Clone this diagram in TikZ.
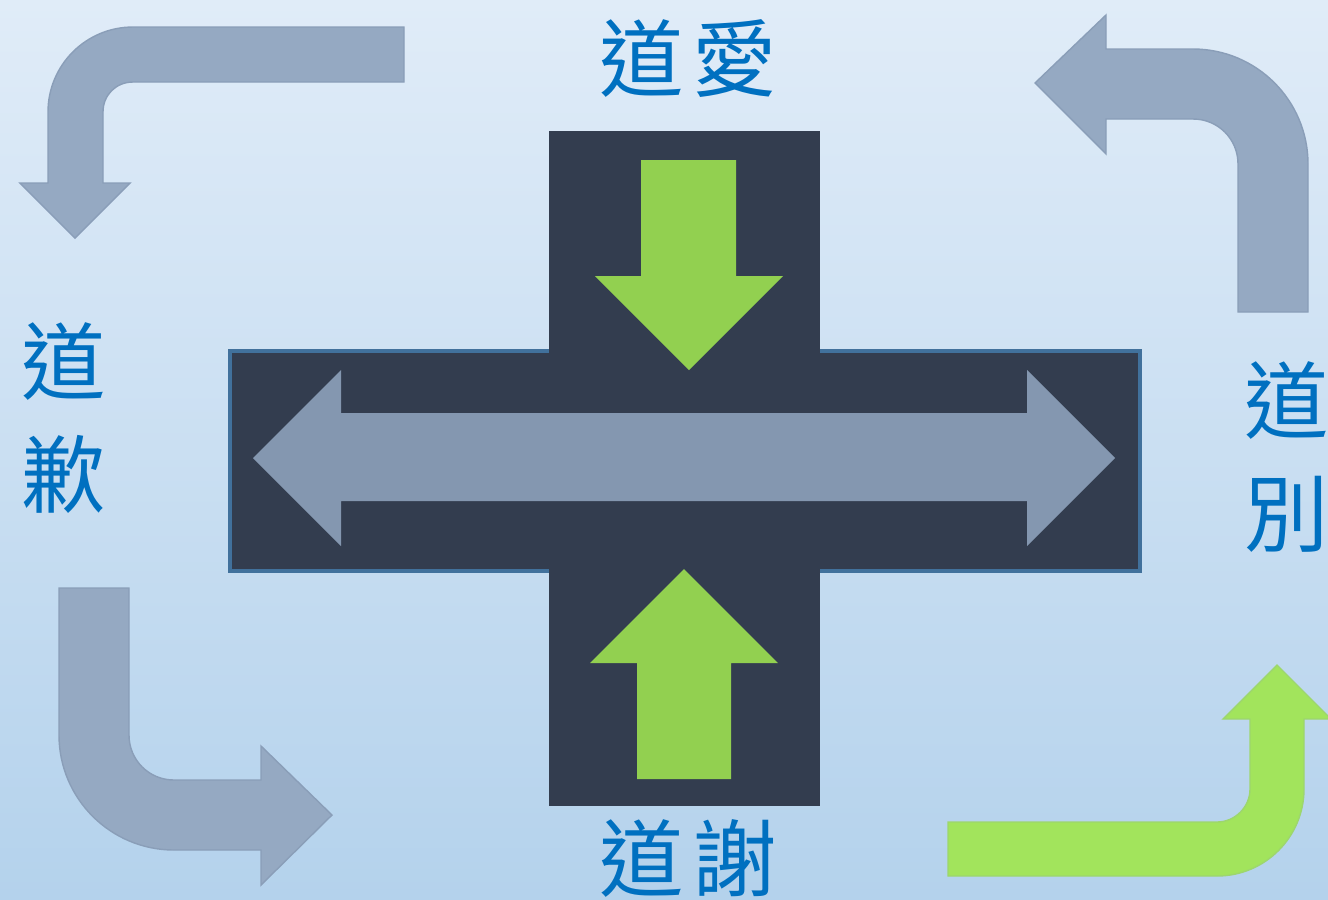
\documentclass[tikz,border=0pt]{standalone}
\usepackage{fontspec}
\newfontfamily\cjkfont{Noto Sans CJK TC}
\definecolor{bgtop}{RGB}{224,236,248}
\definecolor{bgbot}{RGB}{180,210,236}
\definecolor{crossdark}{RGB}{51,61,79}
\definecolor{crossedge}{RGB}{65,113,156}
\definecolor{greenA}{RGB}{146,208,80}
\definecolor{greenB}{RGB}{162,228,92}
\definecolor{greyarrow}{RGB}{149,169,194}
\definecolor{greyedge}{RGB}{138,158,184}
\definecolor{dblarrow}{RGB}{132,151,176}
\definecolor{txtblue}{RGB}{0,112,192}
\tikzset{
  bentgrey/.style={fill=greyarrow, draw=greyedge, line width=0.4pt},
  bentgreen/.style={fill=greenB, draw=greenB!80!greyedge, line width=0.4pt},
  crossbar/.style={fill=crossdark},
  greenarrow/.style={fill=greenA},
  doublearrow/.style={fill=dblarrow},
  label/.style={text=txtblue, inner sep=0pt, align=center, font=\cjkfont\fontsize{24}{32.2}\selectfont}
}
\begin{document}
\begin{tikzpicture}[x=0.01cm, y=-0.01cm]
\useasboundingbox (0,0) rectangle (1328,899);
\shade[top color=bgtop, bottom color=bgbot] (0,0) rectangle (1328,899);
% central cross
\draw[crossbar, draw=crossedge, line width=1.2pt] (230,351) rectangle (1140,571);
\fill[crossdark] (549,131) rectangle (820,806);
% double arrow
\fill[doublearrow] (253,458) -- (341,370) -- (341,413) -- (1027,413) -- (1027,370) -- (1115,458)
  -- (1027,546) -- (1027,501) -- (341,501) -- (341,546) -- cycle;
% green down arrow
\fill[greenarrow] (641,160) -- (736,160) -- (736,276) -- (783,276) -- (689,370) -- (595,276) -- (641,276) -- cycle;
% green up arrow
\fill[greenarrow] (684,569) -- (778,663) -- (731,663) -- (731,779) -- (637,779) -- (637,663) -- (590,663) -- cycle;
% top-left bent arrow
\draw[bentgrey] (404,27) -- (133,27) .. controls (86,27) and (48,65) .. (48,112) -- (48,183) -- (20,183)
  -- (75,238) -- (130,183) -- (103,183) -- (103,112) .. controls (103,95) and (116,82) .. (133,82) -- (404,82) -- cycle;
% top-right bent arrow
\draw[bentgrey] (1035,83) -- (1106,15) -- (1106,49) -- (1193,49) .. controls (1256.5,49) and (1308,100.5) .. (1308,164)
  -- (1308,312) -- (1238,312) -- (1238,164) .. controls (1238,139) and (1218,119) .. (1193,119) -- (1106,119) -- (1106,154) -- cycle;
% bottom-left bent arrow
\draw[bentgrey] (59,588) -- (59,735) .. controls (59,798.5) and (110.5,850) .. (174,850) -- (261,850) -- (261,885)
  -- (332,815) -- (261,746) -- (261,780) -- (174,780) .. controls (149,780) and (129,760) .. (129,735) -- (129,588) -- cycle;
% bottom-right green bent arrow
\draw[bentgreen] (948,822) -- (1217,822) .. controls (1235,822) and (1250,807) .. (1250,789) -- (1250,719) -- (1223,719)
  -- (1277,665) -- (1331,719) -- (1304,719) -- (1304,789) .. controls (1304,837) and (1265,876) .. (1217,876) -- (948,876) -- cycle;
% labels
\node[label] (love) at (688,58) {道\kern0.09cm愛};
\node[label] (thanks) at (688,858) {道\kern0.09cm謝};
\node[label] (sorry) at (64,418) {道\\歉};
\node[label] (bye) at (1287,457) {道\\別};
\end{tikzpicture}
\end{document}
